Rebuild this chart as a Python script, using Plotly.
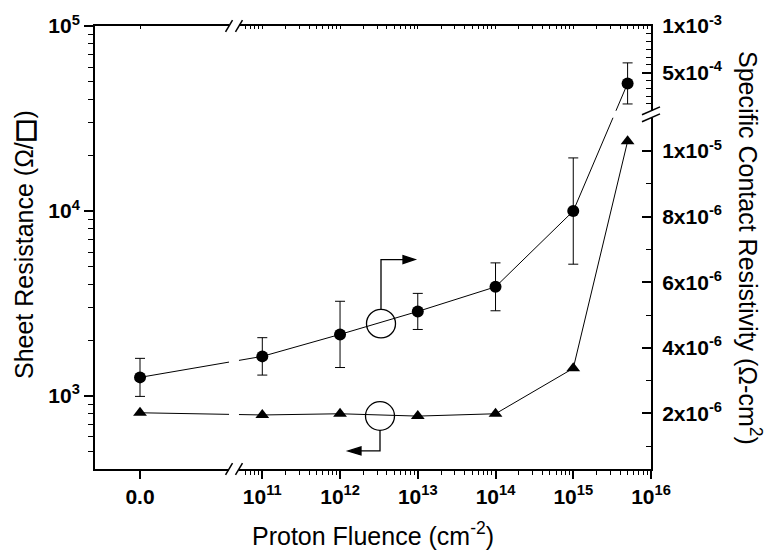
import numpy as np
import plotly.graph_objects as go

# ---------------- data ----------------
fluence = [0, 1e11, 1e12, 1e13, 1e14, 1e15, 5e15]
sheet_resistance = [811, 789, 801, 778, 801, 1410, 23800]
contact_resistivity = [3.10e-6, 3.74e-6, 4.41e-6, 5.11e-6, 5.86e-6, 8.17e-6, 3.85e-4]
contact_error = [0.58e-6, 0.57e-6, 1.01e-6, 0.55e-6, 0.73e-6, 1.62e-6, 2.2e-4]

x_major_exponents = [11, 12, 13, 14, 15, 16]
left_tick_values = [1e3, 1e4, 1e5]
left_tick_text = ["10<sup>3</sup>", "10<sup>4</sup>", "10<sup>5</sup>"]
right_lower_ticks = [2e-6, 4e-6, 6e-6, 8e-6, 1e-5]
right_lower_text = ["2x10<sup>-6</sup>", "4x10<sup>-6</sup>", "6x10<sup>-6</sup>",
                    "8x10<sup>-6</sup>", "1x10<sup>-5</sup>"]
right_upper_ticks = [5e-4, 1e-3]
right_upper_text = ["5x10<sup>-4</sup>", "1x10<sup>-3</sup>"]

# ---------------- scale definitions (broken axes) ----------------
ZERO_POS = 9.427            # where fluence 0 is drawn on the log10 x scale
X_RANGE = [8.848, 16.0]
X_BREAK = [10.572, 10.700]

LOW_UNIT = 1e-6             # lower (linear) part of right axis
LOW_MAX = 1.1e-5
UP_REF_V, UP_REF_T, UP_SLOPE = 5e-4, 12.388, 2846.0   # upper (linear) part
R_RANGE = [0.307, 13.811]
R_BREAK = [11.013, 11.224]

# plot area in pixels (for decorations)
L, R, T, B = 95, 651, 20, 469
W, H = R - L, B - T


def xpos(f):
    return ZERO_POS if f == 0 else float(np.log10(f))


def rt(v):
    return v / LOW_UNIT if v <= LOW_MAX else UP_REF_T + (v - UP_REF_V) * UP_SLOPE


def px(p):
    return (p - L) / W


def py(p):
    return (B - p) / H


xs = [xpos(f) for f in fluence]
ry = [rt(v) for v in contact_resistivity]
err_plus = [rt(v + e) - rt(v) for v, e in zip(contact_resistivity, contact_error)]
err_minus = [rt(v) - rt(v - e) for v, e in zip(contact_resistivity, contact_error)]

x_tickvals = [ZERO_POS] + [float(e) for e in x_major_exponents]
x_ticktext = ["0.0"] + [f"10<sup>{e}</sup>" for e in x_major_exponents]
x_minor = [float(np.log10(k * 10.0 ** n)) for n in range(10, 16) for k in range(2, 10)]
x_minor = [m for m in x_minor if X_BREAK[1] < m < X_RANGE[1]]

left_minor = [k * 10.0 ** n for n in (2, 3, 4) for k in range(2, 10)]
left_minor = [m for m in left_minor if 2.605 < np.log10(m) < 5]

r_tickvals = [rt(v) for v in right_lower_ticks + right_upper_ticks]
r_ticktext = right_lower_text + right_upper_text
step = 5e-4 / 6
r_minor = [rt(v) for v in [1e-6, 3e-6, 5e-6, 7e-6, 9e-6]]
r_minor += [rt(1e-3 - k * step) for k in range(1, 6)]
r_minor += [rt(5e-4 - k * step) for k in range(1, 5)]

FONT = "Liberation Sans, Arial, sans-serif"

fig = go.Figure()

fig.add_trace(go.Scatter(
    x=xs, y=ry, xaxis="x", yaxis="y2", mode="lines+markers",
    line=dict(color="black", width=1),
    marker=dict(symbol="circle", size=12, color="black"),
    error_y=dict(type="data", symmetric=False, array=err_plus, arrayminus=err_minus,
                 color="black", thickness=1, width=5),
    showlegend=False, cliponaxis=False))

fig.add_trace(go.Scatter(
    x=xs, y=sheet_resistance, xaxis="x", yaxis="y", mode="lines+markers",
    line=dict(color="black", width=1),
    marker=dict(symbol="triangle-up", size=12, color="black"),
    showlegend=False))

# invisible trace to activate the top mirror axis
fig.add_trace(go.Scatter(x=[xs[1]], y=[sheet_resistance[1]], xaxis="x2", yaxis="y",
                         mode="markers", marker=dict(opacity=0), showlegend=False,
                         hoverinfo="skip"))

tickfont = dict(family=FONT, size=21, color="black", weight="bold")

fig.update_layout(
    width=771, height=555,
    margin=dict(l=L, r=771 - R, t=T, b=555 - B),
    paper_bgcolor="white", plot_bgcolor="white",
    font=dict(family=FONT, color="black"),
    xaxis=dict(range=X_RANGE, type="linear", showgrid=False, zeroline=False,
               showline=True, linecolor="black", linewidth=2,
               tickmode="array", tickvals=x_tickvals, ticktext=x_ticktext,
               ticks="outside", ticklen=8, tickwidth=1.5, tickcolor="black",
               tickfont=tickfont,
               minor=dict(tickmode="array", tickvals=x_minor, ticks="outside",
                          ticklen=4, tickwidth=1.2, tickcolor="black", showgrid=False)),
    xaxis2=dict(range=X_RANGE, type="linear", overlaying="x", side="top", anchor="y",
                showgrid=False, zeroline=False, showline=True, linecolor="black",
                linewidth=2, tickmode="array", tickvals=x_tickvals,
                showticklabels=False, ticks="inside", ticklen=3, tickwidth=1.2,
                tickcolor="black",
                minor=dict(tickmode="array", tickvals=x_minor, ticks="inside",
                           ticklen=3, tickwidth=1.2, tickcolor="black", showgrid=False)),
    yaxis=dict(type="log", range=[2.605, 5], showgrid=False, zeroline=False,
               showline=True, linecolor="black", linewidth=2,
               tickmode="array", tickvals=left_tick_values, ticktext=left_tick_text,
               ticks="outside", ticklen=9, tickwidth=1.5, tickcolor="black",
               tickfont=tickfont,
               minor=dict(tickmode="array", tickvals=left_minor, ticks="outside",
                          ticklen=5, tickwidth=1.2, tickcolor="black", showgrid=False)),
    yaxis2=dict(type="linear", range=R_RANGE, overlaying="y", side="right", anchor="x",
                showgrid=False, zeroline=False, showline=True, linecolor="black",
                linewidth=2, tickmode="array", tickvals=r_tickvals, ticktext=r_ticktext,
                ticks="inside", ticklen=9, tickwidth=1.5, tickcolor="black",
                tickfont=tickfont, ticklabelstandoff=5,
                minor=dict(tickmode="array", tickvals=r_minor, ticks="inside",
                           ticklen=5, tickwidth=1.2, tickcolor="black", showgrid=False)),
)

shapes = []
# axis breaks: white gaps
shapes.append(dict(type="rect", xref="x", yref="paper", x0=X_BREAK[0], x1=X_BREAK[1],
                   y0=-0.04, y1=1.04, fillcolor="white", line=dict(width=0), layer="above"))
shapes.append(dict(type="rect", xref="paper", yref="y2", x0=px(97), x1=1.03,
                   y0=R_BREAK[0], y1=R_BREAK[1], fillcolor="white", line=dict(width=0),
                   layer="above"))
# break slashes on x axes (bottom & top)
dxu = 3.5 / (W / (X_RANGE[1] - X_RANGE[0]))
dyp = 6 / H
for xb in X_BREAK:
    for yc in (0.0, 1.0):
        shapes.append(dict(type="line", xref="x", yref="paper",
                           x0=xb - dxu, y0=yc - dyp, x1=xb + dxu, y1=yc + dyp,
                           line=dict(color="black", width=1.5), layer="above"))
# break slashes on right axis
dxp = 9 / W
dyt = 4 / (H / (R_RANGE[1] - R_RANGE[0]))
for yb in R_BREAK:
    shapes.append(dict(type="line", xref="paper", yref="y2",
                       x0=1 - dxp, y0=yb - dyt, x1=1 + dxp, y1=yb + dyt,
                       line=dict(color="black", width=1.5), layer="above"))


# series identification circles with arrows
def circle(cx, cy, r):
    return dict(type="circle", xref="paper", yref="paper",
                x0=px(cx - r), x1=px(cx + r), y0=py(cy + r), y1=py(cy - r),
                line=dict(color="black", width=1.3), fillcolor="rgba(0,0,0,0)", layer="above")


def path(points, closed=False, fill=False):
    d = "M " + " L ".join(f"{px(a):.5f},{py(b):.5f}" for a, b in points)
    if closed:
        d += " Z"
    return dict(type="path", xref="paper", yref="paper", path=d,
                line=dict(color="black", width=1.3),
                fillcolor="black" if fill else "rgba(0,0,0,0)", layer="above")


shapes.append(circle(381, 321.7, 14.5))
shapes.append(path([(381, 307.2), (381, 256.7), (403, 256.7)]))
shapes.append(path([(403, 252.7), (415, 256.7), (403, 260.7)], closed=True, fill=True))

shapes.append(circle(380, 415.3, 14.5))
shapes.append(path([(380, 429.8), (380, 450.7), (361, 450.7)]))
shapes.append(path([(361, 446.7), (348, 450.7), (361, 454.7)], closed=True, fill=True))

fig.update_layout(shapes=shapes)

titlefont = dict(family=FONT, size=25, color="black")
square = ('<span style="font-family:\'DejaVu Sans\';font-weight:bold;'
          'stroke:black;stroke-width:1.2px">\u25a1</span>')
fig.update_layout(annotations=[
    dict(text="Proton Fluence (cm<sup>-2</sup>)", xref="paper", yref="paper",
         x=px(373), y=py(535), xanchor="center", yanchor="middle",
         showarrow=False, font=titlefont),
    dict(text="Sheet Resistance (\u03a9/" + square + ")", xref="paper", yref="paper",
         x=px(24), y=py(242), xanchor="center", yanchor="middle", textangle=-90,
         showarrow=False, font=titlefont),
    dict(text="Specific Contact Resistivity (\u03a9-cm<sup>2</sup>)", xref="paper",
         yref="paper", x=px(750), y=py(245), xanchor="center", yanchor="middle",
         textangle=90, showarrow=False, font=titlefont),
])

fig.write_html("out.html")
